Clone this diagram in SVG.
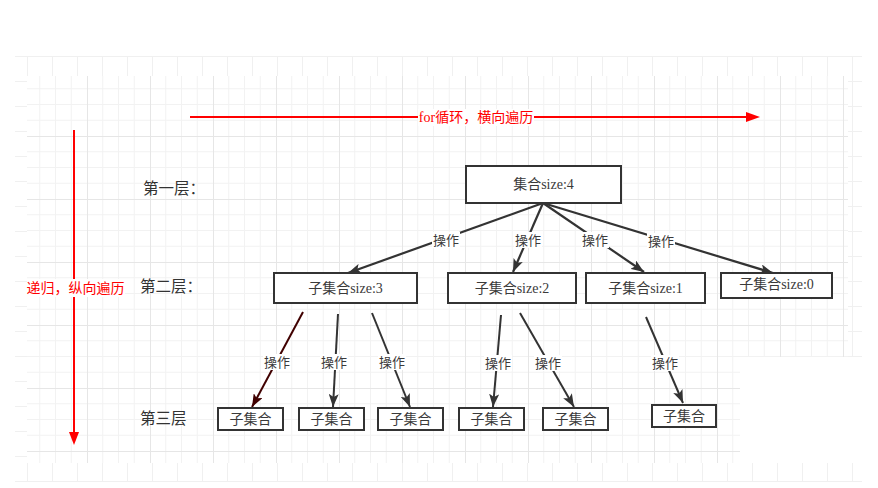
<svg xmlns="http://www.w3.org/2000/svg" width="878" height="488" viewBox="0 0 878 488">
<style>
.node rect{fill:#fff;stroke:#333;stroke-width:2}
.node text{font-family:"Liberation Serif","Noto Sans CJK SC",serif;font-size:14px;fill:#3a3a3a;text-anchor:middle;dominant-baseline:central}
.lvl{font-family:"Liberation Serif","Noto Sans CJK SC",serif;font-size:15.5px;fill:#333;dominant-baseline:central}
.red{font-family:"Liberation Serif","Noto Sans CJK SC",serif;font-size:14px;fill:#ff0000;text-anchor:middle;dominant-baseline:central}
.lbl{font-family:"Liberation Serif","Noto Sans CJK SC",serif;font-size:13px;fill:#3a3a3a;text-anchor:middle;dominant-baseline:central}
.bg{fill:#fff}
.c{fill:none;stroke:#333;stroke-width:2.2;marker-end:url(#ah)}
.c2{fill:none;stroke:#333;stroke-width:2;marker-end:url(#ah)}
.cr{fill:none;stroke:#400000;stroke-width:2;marker-end:url(#ahr)}
.ra{fill:none;stroke:#ff0000;stroke-width:2}
</style>
<defs>
<pattern id="gOuter" patternUnits="userSpaceOnUse" x="2" y="6" width="25" height="25">
<path d="M0.5,0 V25 M0,0.5 H25" stroke="#f0f0f0" stroke-width="1" fill="none"/>
</pattern>
<pattern id="gInner" patternUnits="userSpaceOnUse" x="24" y="10" width="63" height="63">
<path d="M15.75,0 V63 M31.5,0 V63 M47.25,0 V63 M0,15.75 H63 M0,31.5 H63 M0,47.25 H63" stroke="#f2f2f2" stroke-width="1" fill="none"/>
<path d="M0.5,0 V63 M0,0.5 H63" stroke="#e6e6e6" stroke-width="1" fill="none"/>
</pattern>
<marker id="ah" viewBox="0 0 13 10" refX="13" refY="5" markerWidth="13" markerHeight="10" markerUnits="userSpaceOnUse" orient="auto">
<path d="M0,0 L13,5 L0,10 L3,5 z" fill="#333"/>
</marker>
<marker id="ahr" viewBox="0 0 13 10" refX="13" refY="5" markerWidth="13" markerHeight="10" markerUnits="userSpaceOnUse" orient="auto">
<path d="M0,0 L13,5 L0,10 L3,5 z" fill="#400000"/>
</marker>
</defs>

<g id="background">
<rect x="0" y="0" width="878" height="488" fill="#fff"/>
<rect x="15" y="56" width="847" height="426" fill="url(#gOuter)"/>
<rect x="27" y="76" width="821" height="387" fill="#fff"/>
<rect x="27" y="76" width="821" height="387" fill="url(#gInner)"/>
<rect x="740" y="357" width="122" height="106" fill="#fff"/>
</g>

<g id="axis-for">
<line class="ra" x1="190" y1="117" x2="747" y2="117"/>
<path d="M746,112 L760,117 L746,122 z" fill="#ff0000"/>
<rect class="bg" x="418" y="109" width="116" height="17"/>
<text class="red" x="476" y="117.5">for循环，横向遍历</text>
</g>

<g id="axis-recursion">
<line class="ra" x1="74" y1="130" x2="74" y2="433"/>
<path d="M69,432 L74,445 L79,432 z" fill="#ff0000"/>
<rect class="bg" x="27" y="279" width="98" height="18"/>
<text class="red" x="75.5" y="288">递归，纵向遍历</text>
</g>

<g id="level-labels">
<text class="lvl" x="143" y="188.5">第一层：</text>
<text class="lvl" x="140" y="286.5">第二层：</text>
<text class="lvl" x="140" y="418.5">第三层</text>
</g>

<g id="connectors">
<line class="c" x1="543" y1="203" x2="348" y2="273"/>
<line class="c" x1="543" y1="203" x2="513" y2="272"/>
<line class="c" x1="543" y1="203" x2="644" y2="272"/>
<line class="c" x1="543" y1="203" x2="773" y2="273"/>
<line class="cr" x1="303" y1="312" x2="252" y2="407"/>
<line class="c2" x1="338" y1="314" x2="333" y2="407"/>
<line class="c2" x1="372" y1="313" x2="410" y2="407"/>
<line class="c2" x1="501" y1="315" x2="493" y2="407"/>
<line class="c2" x1="520" y1="313" x2="574" y2="407"/>
<line class="c2" x1="646" y1="317" x2="683" y2="403"/>
<g id="connector-labels">
<rect class="bg" x="432" y="232" width="28" height="16"/><text class="lbl" x="446" y="240">操作</text>
<rect class="bg" x="514" y="232" width="28" height="16"/><text class="lbl" x="528" y="240">操作</text>
<rect class="bg" x="581" y="232" width="28" height="16"/><text class="lbl" x="595" y="240">操作</text>
<rect class="bg" x="647" y="233" width="28" height="16"/><text class="lbl" x="661" y="241">操作</text>
<rect class="bg" x="263" y="354" width="28" height="16"/><text class="lbl" x="277" y="362">操作</text>
<rect class="bg" x="320" y="354" width="28" height="16"/><text class="lbl" x="334" y="362">操作</text>
<rect class="bg" x="378" y="354" width="28" height="16"/><text class="lbl" x="392" y="362">操作</text>
<rect class="bg" x="484" y="355" width="28" height="16"/><text class="lbl" x="498" y="363">操作</text>
<rect class="bg" x="534" y="355" width="28" height="16"/><text class="lbl" x="548" y="363">操作</text>
<rect class="bg" x="651" y="355" width="28" height="16"/><text class="lbl" x="665" y="363">操作</text>
</g>
</g>

<g id="root" class="node"><rect x="466" y="166" width="155" height="37"/><text x="543.5" y="184">集合size:4</text></g>
<g id="n3" class="node"><rect x="274" y="273" width="143" height="30"/><text x="345.5" y="288.5">子集合size:3</text></g>
<g id="n2" class="node"><rect x="448" y="273" width="128" height="30"/><text x="512" y="288.5">子集合size:2</text></g>
<g id="n1" class="node"><rect x="586" y="273" width="119" height="30"/><text x="645.5" y="288.5">子集合size:1</text></g>
<g id="n0" class="node"><rect x="721" y="273" width="111" height="25"/><text x="776.5" y="284.5">子集合size:0</text></g>
<g id="n3a" class="node"><rect x="218" y="408" width="65" height="22"/><text x="250.5" y="419">子集合</text></g>
<g id="n3b" class="node"><rect x="299" y="408" width="65" height="22"/><text x="331.5" y="419">子集合</text></g>
<g id="n3c" class="node"><rect x="378" y="408" width="65" height="22"/><text x="410.5" y="419">子集合</text></g>
<g id="n2a" class="node"><rect x="459" y="408" width="65" height="22"/><text x="491.5" y="419">子集合</text></g>
<g id="n2b" class="node"><rect x="543" y="408" width="65" height="22"/><text x="575.5" y="419">子集合</text></g>
<g id="n1a" class="node"><rect x="652" y="405" width="64" height="22"/><text x="684" y="416">子集合</text></g>
</svg>
